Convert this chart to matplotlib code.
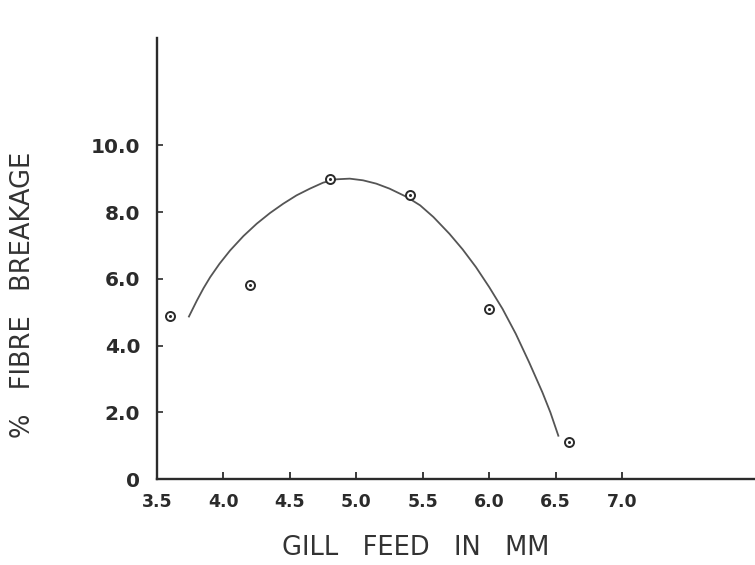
import numpy as np
import matplotlib.pyplot as plt

# measured points
gill_feed = [3.6, 4.2, 4.8, 5.4, 6.0, 6.6]
breakage = [4.9, 5.8, 9.0, 8.5, 5.1, 1.1]

# hand drawn curve
curve_x = [3.74, 3.8, 3.85, 3.9, 3.97, 4.05, 4.15, 4.25, 4.35, 4.45, 4.55, 4.65,
           4.75, 4.85, 4.95, 5.05, 5.15, 5.25, 5.38, 5.48, 5.58, 5.7, 5.8, 5.9,
           6.0, 6.1, 6.2, 6.3, 6.4, 6.46, 6.52]
curve_y = [4.87, 5.35, 5.72, 6.05, 6.45, 6.85, 7.28, 7.65, 7.97, 8.25, 8.5, 8.7,
           8.88, 8.98, 9.0, 8.95, 8.85, 8.7, 8.45, 8.2, 7.85, 7.35, 6.88, 6.35,
           5.75, 5.1, 4.35, 3.5, 2.6, 2.0, 1.3]

xticks = [3.5, 4.0, 4.5, 5.0, 5.5, 6.0, 6.5, 7.0]
xticklabels = ["3.5", "4.0", "4.5", "5.0", "5.5", "6.0", "6.5", "7.0"]
yticks = [0, 2, 4, 6, 8, 10]
yticklabels = ["0", "2.0", "4.0", "6.0", "8.0", "10.0"]

ink = "#2b2b2b"

fig = plt.figure(figsize=(7.55, 5.65), dpi=100)
ax = fig.add_axes([0.208, 0.152, 0.792, 0.78])

ax.plot(curve_x, curve_y, '-', color="#555555", lw=1.3)
ax.plot(gill_feed, breakage, 'o', ms=6.5, mfc='white', mec=ink, mew=1.4)
ax.plot(gill_feed, breakage, 'o', ms=1.2, color=ink)

ax.set_xlim(3.5, 8.0)
ax.set_ylim(0, 13.2)

for s in ['top', 'right']:
    ax.spines[s].set_visible(False)
for s in ['left', 'bottom']:
    ax.spines[s].set_linewidth(1.7)
    ax.spines[s].set_color(ink)

ax.set_xticks(xticks, xticklabels)
ax.set_yticks(yticks, yticklabels)
ax.tick_params(axis='x', direction='in', length=5, width=1.3, color=ink,
               pad=10, labelsize=12.5, labelcolor=ink)
ax.tick_params(axis='y', direction='in', length=4, width=1.2, color=ink,
               pad=12, labelsize=14.5, labelcolor=ink)
for t in ax.get_xticklabels() + ax.get_yticklabels():
    t.set_fontweight('bold')

fig.text(0.55, 0.03, "GILL   FEED   IN   MM", ha='center', va='center',
         fontsize=18.5, color="#333333")
fig.text(0.03, 0.478, "%   FIBRE   BREAKAGE", ha='center', va='center',
         rotation=90, fontsize=18.5, color="#333333")

fig.savefig("out.png", dpi=100)
